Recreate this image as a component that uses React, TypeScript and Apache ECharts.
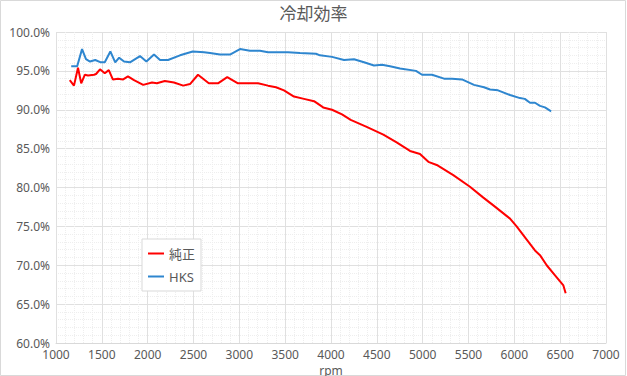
import React, { useEffect, useRef } from "react";
import * as echarts from "echarts";

const title = "冷却効率";
const xName = "rpm";
const seriesNames = ["純正", "HKS"];

const stockRpm = [1150, 1196, 1240, 1275, 1314, 1349, 1415, 1437, 1480, 1532, 1576, 1620, 1676, 1733, 1785, 1851, 1951, 2047, 2100, 2187, 2287, 2388, 2462, 2549, 2667, 2767, 2868, 2985, 3095, 3204, 3313, 3400, 3487, 3596, 3705, 3815, 3915, 4011, 4120, 4215, 4389, 4571, 4716, 4862, 4971, 5062, 5153, 5334, 5516, 5662, 5771, 5953, 6025, 6135, 6225, 6280, 6353, 6444, 6535, 6560];
const stockEff = [93.8, 93.1, 95.4, 93.4, 94.5, 94.4, 94.5, 94.6, 95.2, 94.7, 95.1, 93.9, 94.0, 93.9, 94.3, 93.8, 93.2, 93.5, 93.4, 93.7, 93.5, 93.1, 93.3, 94.5, 93.4, 93.4, 94.2, 93.4, 93.4, 93.4, 93.1, 92.9, 92.5, 91.7, 91.4, 91.1, 90.3, 90.0, 89.4, 88.7, 87.8, 86.8, 85.8, 84.7, 84.3, 83.3, 82.9, 81.6, 80.1, 78.7, 77.7, 76.0, 75.0, 73.3, 71.9, 71.3, 70.0, 68.7, 67.4, 66.4];

const hksRpm = [1166, 1231, 1284, 1327, 1371, 1428, 1489, 1532, 1593, 1646, 1689, 1742, 1807, 1916, 1986, 2069, 2135, 2222, 2353, 2492, 2615, 2680, 2789, 2898, 3007, 3116, 3225, 3313, 3531, 3662, 3836, 3880, 4011, 4142, 4251, 4360, 4469, 4556, 4644, 4753, 4927, 4993, 5102, 5233, 5320, 5429, 5560, 5669, 5735, 5822, 5953, 6062, 6114, 6171, 6225, 6280, 6334, 6402];
const hksEff = [95.6, 95.6, 97.8, 96.5, 96.2, 96.4, 96.1, 96.1, 97.5, 96.1, 96.7, 96.2, 96.1, 96.9, 96.2, 97.1, 96.4, 96.4, 97.0, 97.5, 97.4, 97.3, 97.1, 97.1, 97.8, 97.6, 97.6, 97.4, 97.4, 97.3, 97.2, 97.0, 96.8, 96.4, 96.5, 96.1, 95.7, 95.8, 95.6, 95.3, 95.0, 94.5, 94.5, 94.0, 94.0, 93.9, 93.2, 92.9, 92.6, 92.5, 91.9, 91.5, 91.4, 90.9, 90.9, 90.5, 90.3, 89.8];

const zip = (xs: number[], ys: number[]) => xs.map((x, i) => [x, ys[i]]);

export default function App() {
  const ref = useRef<HTMLDivElement>(null);
  useEffect(() => {
    if (!ref.current) return;
    const chart = echarts.init(ref.current, undefined, { renderer: "svg" });
    const textColor = "#595959";
    const font = "'Noto Sans', 'Noto Sans CJK JP', sans-serif";
    chart.setOption({
      animation: false,
      backgroundColor: "#fff",
      textStyle: { fontFamily: font },
      title: {
        text: title,
        left: "center",
        top: 2,
        padding: [2, 5, 2, 5],
        textStyle: { fontSize: 17, fontWeight: "normal", color: textColor, fontFamily: "'Noto Sans CJK JP', sans-serif" },
      },
      graphic: [
        {
          type: "rect",
          shape: { x: 0.5, y: 0.5, width: 625, height: 375 },
          style: { fill: "none", stroke: "#d9d9d9", lineWidth: 1 },
          silent: true,
          z: -1,
        },
      ],
      legend: {
        orient: "vertical",
        left: 142,
        top: 239,
        padding: [8, 6, 8, 6],
        itemGap: 10,
        itemWidth: 16,
        itemHeight: 2,
        icon: "rect",
        borderColor: "#d9d9d9",
        borderWidth: 1,
        backgroundColor: "#fff",
        textStyle: { fontSize: 13, color: textColor, fontFamily: "'Noto Sans', 'Noto Sans CJK JP', sans-serif" },
        data: seriesNames,
      },
      grid: { left: 56, right: 21, top: 32, bottom: 33, containLabel: false, outerBoundsMode: "none" },
      xAxis: {
        type: "value",
        min: 1000,
        max: 7000,
        interval: 500,
        name: xName,
        nameLocation: "middle",
        nameGap: 19,
        nameTextStyle: { fontSize: 12, color: textColor, verticalAlign: "top", lineHeight: 12 },
        axisLine: { show: true, lineStyle: { color: "#d9d9d9" } },
        axisTick: { show: false },
        axisLabel: { color: textColor, fontSize: 12, margin: 5, formatter: (v: number) => String(v) },
        splitLine: { show: true, lineStyle: { color: "#e0e0e0", width: 1 } },
        minorTick: { show: false, splitNumber: 5 },
        minorSplitLine: { show: true, lineStyle: { color: "#eeeeee", type: "dotted", width: 1 } },
      },
      yAxis: {
        type: "value",
        min: 60,
        max: 100,
        interval: 5,
        axisLine: { show: false },
        axisTick: { show: false },
        axisLabel: { color: textColor, fontSize: 12, margin: 6, formatter: (v: number) => v.toFixed(1) + "%" },
        splitLine: { show: true, lineStyle: { color: "#e0e0e0", width: 1 } },
        minorTick: { show: false, splitNumber: 5 },
        minorSplitLine: { show: true, lineStyle: { color: "#eeeeee", type: "dotted", width: 1 } },
      },
      series: [
        {
          name: seriesNames[0],
          type: "line",
          data: zip(stockRpm, stockEff),
          showSymbol: false,
          symbol: "none",
          lineStyle: { color: "#ff0000", width: 2 },
          itemStyle: { color: "#ff0000" },
        },
        {
          name: seriesNames[1],
          type: "line",
          data: zip(hksRpm, hksEff),
          showSymbol: false,
          symbol: "none",
          lineStyle: { color: "#2e86cf", width: 2 },
          itemStyle: { color: "#2e86cf" },
        },
      ],
    });
    return () => chart.dispose();
  }, []);
  return <div ref={ref} style={{ width: 627, height: 376, position: "absolute", left: 0, top: 0 }} />;
}
